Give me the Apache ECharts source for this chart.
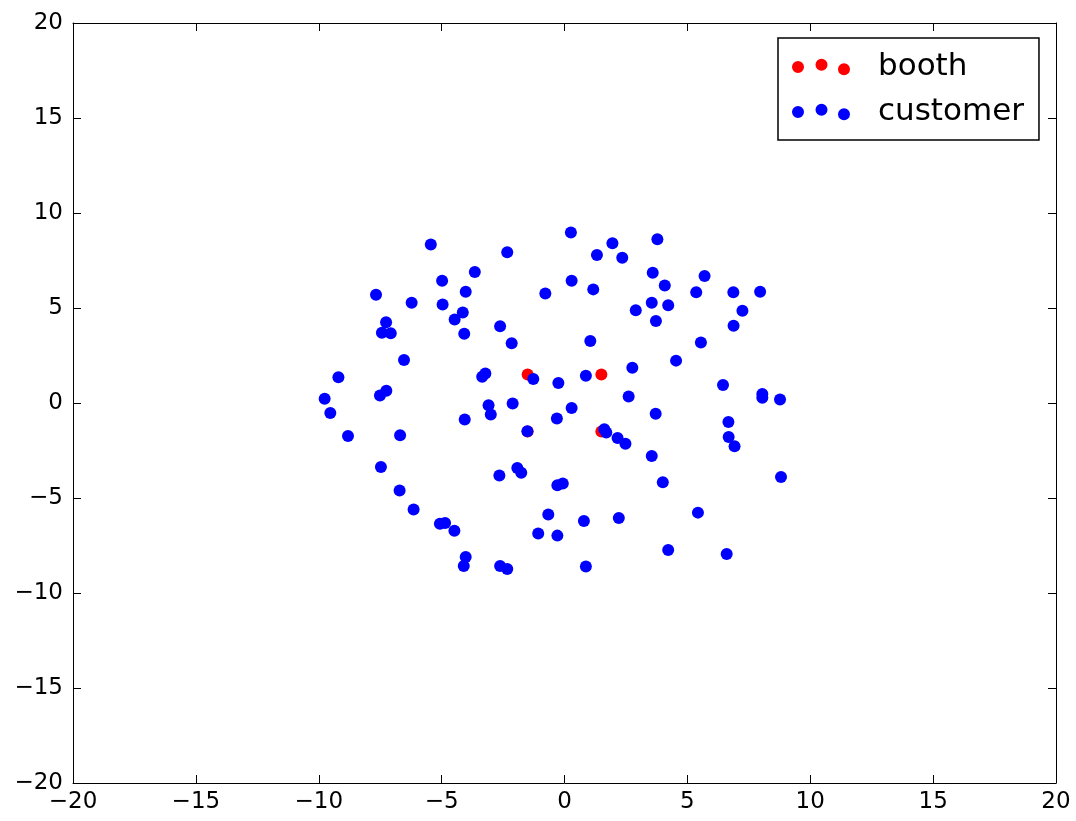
<!DOCTYPE html>
<html>
<head>
<meta charset="utf-8">
<script src="https://cdn.jsdelivr.net/npm/echarts@6/dist/echarts.min.js"></script>
<style>html,body{margin:0;padding:0;background:#fff;}#c{width:1076px;height:821px;}</style>
</head>
<body>
<div id="c"></div>
<script>
const seriesNames = ['booth', 'customer'];
const axisTicks = [-20, -15, -10, -5, 0, 5, 10, 15, 20];
const boothPoints = [[-1.5, 1.5], [1.5, 1.5], [1.5, -1.5], [-1.5, -1.5]];
const customerPoints = [
  [-5.44, 8.34], [-3.65, 6.90], [-4.98, 6.44], [-4.02, 5.86], [-7.67, 5.70],
  [-6.22, 5.28], [-4.96, 5.18], [-4.14, 4.76], [-4.47, 4.39], [-7.26, 4.25],
  [-7.43, 3.70], [-7.07, 3.67], [-4.08, 3.65], [-6.53, 2.26], [-9.20, 1.35],
  [-9.76, 0.22], [-7.25, 0.65], [-7.51, 0.40], [0.26, 8.97], [1.95, 8.41],
  [1.32, 7.79], [2.35, 7.65], [-2.33, 7.93], [0.29, 6.44], [1.17, 5.98],
  [-0.78, 5.76], [2.90, 4.88], [-2.62, 4.04], [-2.15, 3.14], [1.05, 3.26],
  [2.76, 1.85], [-3.35, 1.38], [-3.22, 1.55], [-1.27, 1.26], [-0.25, 1.05],
  [0.87, 1.44], [2.61, 0.34], [3.78, 8.62], [3.59, 6.86], [5.70, 6.69],
  [4.08, 6.19], [5.36, 5.83], [6.87, 5.83], [7.96, 5.86], [3.55, 5.28],
  [4.22, 5.14], [7.24, 4.86], [3.72, 4.32], [6.88, 4.07], [5.55, 3.19],
  [4.54, 2.23], [6.45, 0.95], [8.05, 0.47], [8.05, 0.28], [8.77, 0.18],
  [3.71, -0.56], [6.67, -1.00], [6.68, -1.79], [6.92, -2.28], [3.55, -2.79],
  [8.81, -3.89], [4.00, -4.17], [5.43, -5.77], [4.22, -7.74], [6.60, -7.95],
  [-3.09, -0.12], [-3.00, -0.60], [-2.11, -0.03], [0.29, -0.26], [-0.31, -0.82],
  [-1.51, -1.49], [1.62, -1.38], [1.70, -1.55], [2.16, -1.84], [2.48, -2.14],
  [-2.65, -3.81], [-1.92, -3.42], [-1.76, -3.67], [-0.29, -4.33], [-0.07, -4.24],
  [-0.66, -5.87], [0.79, -6.21], [2.21, -6.05], [-1.07, -6.87], [-0.29, -6.98],
  [-2.62, -8.58], [-2.33, -8.74], [0.87, -8.61], [-9.53, -0.53], [-4.06, -0.87],
  [-8.81, -1.74], [-6.69, -1.70], [-7.47, -3.37], [-6.71, -4.61], [-6.14, -5.61],
  [-5.07, -6.35], [-4.86, -6.32], [-4.48, -6.72], [-4.02, -8.11], [-4.10, -8.58]
];

const FONT = 'DejaVu Sans';
const fmt = v => String(v).replace('-', '\u2212');
const axMin = axisTicks[0], axMax = axisTicks[axisTicks.length - 1], axStep = axisTicks[1] - axisTicks[0];

function mkAxis(pos, showLabel, extra) {
  return Object.assign({
    type: 'value', position: pos, min: axMin, max: axMax, interval: axStep,
    axisLine: { show: true, onZero: false, lineStyle: { color: '#000', width: 1 } },
    axisTick: { show: true, inside: true, length: 8, lineStyle: { color: '#000', width: 1 } },
    axisLabel: { show: showLabel, color: '#000', fontFamily: FONT, fontSize: 23, formatter: fmt },
    splitLine: { show: false }
  }, extra || {});
}

const iconPath = 'path://M0,8.3a6,6 0 1,0 12,0a6,6 0 1,0 -12,0Z' +
  'M23.5,6a6,6 0 1,0 12,0a6,6 0 1,0 -12,0Z' +
  'M46,10.6a6,6 0 1,0 12,0a6,6 0 1,0 -12,0Z';

const chart = echarts.init(document.getElementById('c'), null, { renderer: 'canvas' });
chart.setOption({
  animation: false,
  backgroundColor: '#fff',
  grid: { left: 73, right: 20, top: 23, bottom: 38, containLabel: false },
  xAxis: [
    mkAxis('bottom', true, { axisLabel: { show: true, color: '#000', fontFamily: FONT, fontSize: 23, margin: 8, formatter: fmt } }),
    mkAxis('top', false)
  ],
  yAxis: [
    mkAxis('left', true, { axisLabel: { show: true, color: '#000', fontFamily: FONT, fontSize: 23, margin: 10, formatter: fmt } }),
    mkAxis('right', false)
  ],
  legend: {
    orient: 'vertical', left: 778, top: 38,
    data: seriesNames.map(n => ({ name: n, icon: iconPath })),
    itemWidth: 58, itemHeight: 16.6, itemGap: 9,
    padding: [11, 15, 10, 14],
    borderColor: '#000', borderWidth: 1.5, borderRadius: 0,
    backgroundColor: '#fff',
    textStyle: { fontFamily: FONT, fontSize: 31, color: '#000', padding: [0, 0, 0, 23], lineHeight: 36 }
  },
  series: [
    { name: seriesNames[0], type: 'scatter', xAxisIndex: 0, yAxisIndex: 0, data: boothPoints,
      symbol: 'circle', symbolSize: 12, itemStyle: { color: '#ff0000', opacity: 1 } },
    { name: seriesNames[1], type: 'scatter', xAxisIndex: 0, yAxisIndex: 0, data: customerPoints,
      symbol: 'circle', symbolSize: 12, itemStyle: { color: '#0000ff', opacity: 1 } }
  ]
});
</script>
</body>
</html>
